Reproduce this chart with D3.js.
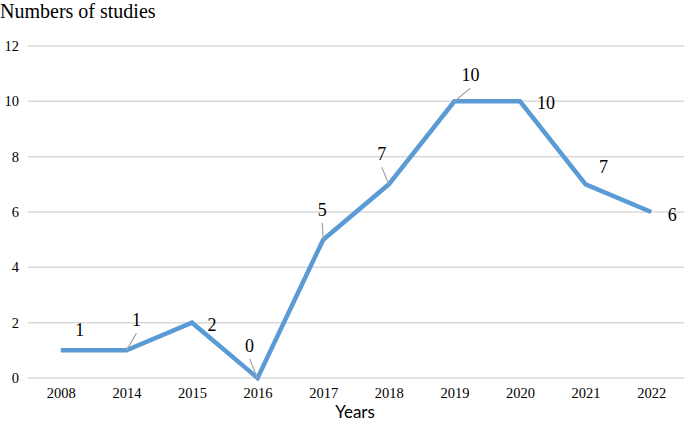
<!DOCTYPE html>
<html>
<head>
<meta charset="utf-8">
<script src="https://cdn.jsdelivr.net/npm/d3@7"></script>
<style>
  body { margin: 0; background: #fff; }
</style>
</head>
<body>
<svg id="chart" width="685" height="423"></svg>
<script>
var years = ["2008", "2014", "2015", "2016", "2017", "2018", "2019", "2020", "2021", "2022"];
var studies = [1, 1, 2, 0, 5, 7, 10, 10, 7, 6];
var yTicks = [0, 2, 4, 6, 8, 10, 12];

var serif = '"Liberation Serif", "Times New Roman", Times, serif';
var sans = 'Lato, "Open Sans", sans-serif';

// label placement (dx, dy from point) and whether a leader line is drawn
var labelPos = [
    [19, -14, false], [10, -24, true], [20, 8, false], [-8, -26, true],
    [-1, -24, true], [-7, -24, true], [16, -20, true], [26, 8, false],
    [18, -11, false], [21, 9, false]
];

var svg = d3.select('#chart');
var x = d3.scalePoint().domain(years).range([28, 684]).padding(0.5);
var y = d3.scaleLinear().domain([0, 12]).range([378, 46]);

// gridlines
svg.selectAll('.grid')
    .data(yTicks)
    .enter()
    .append('line')
    .attr('class', 'grid')
    .attr('x1', 28).attr('x2', 684)
    .attr('y1', function(d) { return y(d); })
    .attr('y2', function(d) { return y(d); })
    .attr('stroke', '#d9d9d9')
    .attr('stroke-width', 1.5);

// y axis labels
var yAxis = svg.append('g')
    .attr('transform', 'translate(19,0)')
    .call(d3.axisLeft(y).tickValues(yTicks).tickSize(0).tickPadding(0));
yAxis.select('.domain').remove();
yAxis.selectAll('text')
    .style('font-family', serif)
    .style('font-size', '14.5px')
    .attr('fill', '#000');

// x axis labels
var xAxis = svg.append('g')
    .attr('transform', 'translate(0,388)')
    .call(d3.axisBottom(x).tickSize(0).tickPadding(0));
xAxis.select('.domain').remove();
xAxis.selectAll('text')
    .style('font-family', serif)
    .style('font-size', '14.5px')
    .attr('fill', '#000');

// line
var line = d3.line()
    .x(function(d, i) { return x(years[i]); })
    .y(function(d) { return y(d); });

svg.append('path')
    .datum(studies)
    .attr('d', line)
    .attr('fill', 'none')
    .attr('stroke', '#5b9bd5')
    .attr('stroke-width', 4.5)
    .attr('stroke-linejoin', 'miter');

// leader lines
studies.forEach(function(d, i) {
    if (!labelPos[i][2]) return;
    var px = x(years[i]), py = y(d);
    var lx = px + labelPos[i][0], ly = py + labelPos[i][1] + 7;
    svg.append('line')
        .attr('x1', px).attr('y1', py)
        .attr('x2', lx).attr('y2', ly)
        .attr('stroke', '#a6a6a6')
        .attr('stroke-width', 1.2);
});

// data labels
svg.selectAll('.lbl')
    .data(studies)
    .enter()
    .append('text')
    .attr('class', 'lbl')
    .attr('x', function(d, i) { return x(years[i]) + labelPos[i][0]; })
    .attr('y', function(d, i) { return y(d) + labelPos[i][1]; })
    .attr('text-anchor', 'middle')
    .style('font-family', serif)
    .style('font-size', '18px')
    .attr('fill', '#000')
    .text(function(d) { return d; });

// titles
svg.append('text')
    .attr('x', 0).attr('y', 18)
    .style('font-family', serif)
    .style('font-size', '20px')
    .attr('fill', '#000')
    .text('Numbers of studies');

svg.append('text')
    .attr('x', 355).attr('y', 418)
    .attr('text-anchor', 'middle')
    .style('font-family', sans)
    .style('font-size', '17px')
    .attr('fill', '#000')
    .text('Years');
</script>
</body>
</html>
